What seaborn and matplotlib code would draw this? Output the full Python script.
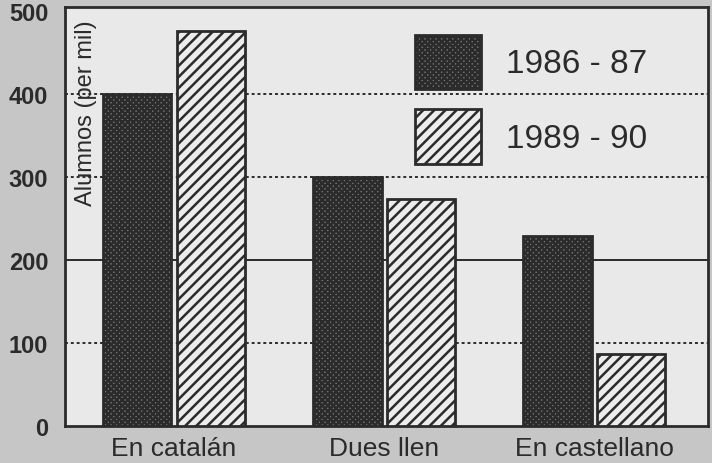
import pandas as pd
import matplotlib.pyplot as plt
import seaborn as sns

categories = ["En catalán", "Dues llen", "En castellano"]
periods = ["1986 - 87", "1989 - 90"]
values_8687 = [400, 300, 229]
values_8990 = [477, 274, 87]

df = pd.DataFrame({
    "categoria": categories * 2,
    "curso": [periods[0]] * 3 + [periods[1]] * 3,
    "alumnos": values_8687 + values_8990,
})

sns.set_style("white")
plt.rcParams["font.family"] = ["Liberation Sans", "DejaVu Sans"]
plt.rcParams["hatch.linewidth"] = 1.8

ink = "#2b2b2b"
fig = plt.figure(figsize=(7.12, 4.64), dpi=100, facecolor="#c6c6c6")
ax = fig.add_axes([0.091, 0.080, 0.903, 0.902])
ax.set_facecolor("#e9e9e9")

sns.barplot(data=df, x="categoria", y="alumnos", hue="curso",
            palette=["#6e6e6e", "#ececec"], width=0.7, gap=0.07,
            edgecolor=ink, linewidth=2, ax=ax, legend=False)

n = len(categories)
for i, bar in enumerate(ax.patches[:2 * n]):
    if i < n:
        bar.set_hatch("xxxxxx")
        bar.set_facecolor("#7a7a7a")
    else:
        bar.set_hatch("///")
    bar.set_edgecolor(ink)
    bar.set_zorder(3)

# grid: 200 solid, others dotted
for yv in [100, 300, 400]:
    ax.axhline(yv, color=ink, lw=1.4, ls=(0, (1.5, 1.5)), zorder=1)
ax.axhline(200, color=ink, lw=1.4, zorder=1)

ax.set_ylim(0, 505)
ax.set_xlim(-0.52, 2.54)
ax.set_yticks([0, 100, 200, 300, 400, 500])
ax.tick_params(axis="both", length=0, labelcolor=ink)
ax.tick_params(axis="y", labelsize=17, pad=12)
ax.tick_params(axis="x", labelsize=19, pad=7)
for lab in ax.get_yticklabels():
    lab.set_fontweight("bold")
ax.set_xlabel("")
ax.set_ylabel("")
ax.text(0.016, 0.972, "Alumnos (per mil)", transform=ax.transAxes, rotation=90,
        ha="left", va="top", fontsize=17, color=ink)

for s in ax.spines.values():
    s.set_color(ink)
    s.set_linewidth(2)

handles = [ax.patches[0], ax.patches[n]]
ax.legend(handles, periods, loc="upper left", bbox_to_anchor=(0.544, 0.935),
          frameon=False, fontsize=24, handlelength=2.0, handleheight=2.15,
          labelspacing=0.6, handletextpad=0.75, borderpad=0, borderaxespad=0,
          labelcolor=ink)

fig.savefig("out.png", dpi=100, facecolor=fig.get_facecolor())
